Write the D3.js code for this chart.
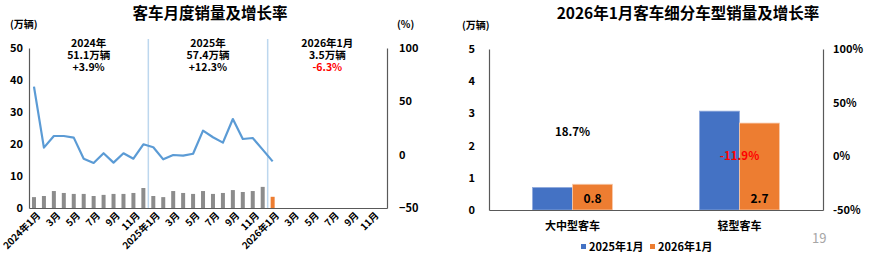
<!DOCTYPE html>
<html><head><meta charset="utf-8">
<script src="https://cdn.jsdelivr.net/npm/d3@7/dist/d3.min.js"></script>
<style>
body{margin:0;background:#fff;}
svg{display:block;font-family:"Noto Sans CJK SC","Noto Sans",sans-serif;}
</style></head>
<body>
<svg id="c" width="874" height="259"></svg>
<script>
// ---------- data: left chart ----------
const months = [];
for (const y of [2024, 2025, 2026]) for (let m = 1; m <= 12; m++) months.push(y + "-" + m);
const monthLabels = months.map(k => { const [y, m] = k.split("-"); return m === "1" ? y + "年1月" : m + "月"; });
const salesPrev = [3.4,3.75,5.3,4.7,4.4,4.4,3.75,4.1,4.4,4.4,4.7,6.25, 3.75,3.4,5.3,4.7,4.4,5.3,4.4,4.7,5.6,5.0,5.3,6.6];
const salesCur = [3.5];
const growth = [63.8,6.6,17.5,17.5,16,-3.8,-7.8,1.3,-7.5,1.3,-3.8,9.7, 6.9,-4.4,-0.3,-0.9,0.9,22.5,16.3,11.3,33.4,14.7,15.6,4.7, -6.3];
const leftTicks = [0,10,20,30,40,50];
const rightTicks = [-50,0,50,100];
const notes = [
  {lines:["2024年","51.1万辆","+3.9%"], red:false, span:["2024-1","2024-12"]},
  {lines:["2025年","57.4万辆","+12.3%"], red:false, span:["2025-1","2025-12"]},
  {lines:["2026年1月","3.5万辆","-6.3%"], red:true, span:["2026-1","2026-12"]}
];
// ---------- data: right chart ----------
const types = ["大中型客车","轻型客车"];
const series = ["2025年1月","2026年1月"];
const vol2025 = [0.7, 3.07];
const vol2026 = [0.8, 2.7];
const typeGrowth = [18.7, -11.9];
const rLeftTicks = [0,1,2,3,4,5];
const rRightTicks = [-50,0,50,100];

const svg = d3.select("#c");
const C = {blue:"#4472C4", orange:"#ED7D31", gray:"#8C8C8C", line:"#5B9BD5", sep:"#BDD7EE", axis:"#595959", red:"#FF0000"};
const FONT = '"Noto Sans CJK SC",sans-serif';

// ================= LEFT CHART =================
(function(){
  const g = svg.append("g");
  const x = d3.scaleBand().domain(months).range([29, 387]);
  const yL = d3.scaleLinear().domain([0, 50]).range([208, 48]);
  const yR = d3.scaleLinear().domain([-50, 100]).range([208, 48]);
  const cx = k => x(k) + x.bandwidth() / 2;

  g.append("text").attr("x", 210).attr("y", 19).attr("text-anchor","middle")
    .attr("font-size", 15.5).attr("font-weight","bold").text("客车月度销量及增长率");
  g.append("text").attr("x", 10).attr("y", 28).attr("font-size", 10).attr("font-weight","bold").text("(万辆)");
  g.append("text").attr("x", 397).attr("y", 28).attr("font-size", 10).attr("font-weight","bold").text("(%)");

  // separators
  [["2024-12","2025-1"],["2025-12","2026-1"]].forEach(([a,b]) => {
    const sx = (cx(a) + cx(b)) / 2;
    g.append("line").attr("x1", sx).attr("x2", sx).attr("y1", 39).attr("y2", 208)
      .attr("stroke", C.sep).attr("stroke-width", 1.5);
  });

  // bars
  const bw = 4;
  g.selectAll(".bp").data(salesPrev).join("rect")
    .attr("x", (d,i) => cx(months[i]) - bw/2).attr("width", bw)
    .attr("y", d => yL(d)).attr("height", d => yL(0) - yL(d)).attr("fill", C.gray);
  g.selectAll(".bc").data(salesCur).join("rect")
    .attr("x", (d,i) => cx(months[24+i]) - bw/2).attr("width", bw)
    .attr("y", d => yL(d)).attr("height", d => yL(0) - yL(d)).attr("fill", C.orange);

  // line
  g.append("path").datum(growth)
    .attr("d", d3.line().x((d,i) => cx(months[i])).y(d => yR(d)))
    .attr("fill","none").attr("stroke", C.line).attr("stroke-width", 2.2).attr("stroke-linejoin","round");

  // axes
  const axL = g.append("g").attr("transform","translate(29,0)")
    .call(d3.axisLeft(yL).tickValues(leftTicks).tickSize(0).tickPadding(6));
  const axR = g.append("g").attr("transform","translate(387,0)")
    .call(d3.axisRight(yR).tickValues(rightTicks).tickSize(0).tickPadding(12));
  const axB = g.append("g").attr("transform","translate(0,208)")
    .call(d3.axisBottom(x).tickValues(months.filter((d,i) => i % 2 === 0)).tickSize(0).tickFormat(d => monthLabels[months.indexOf(d)]));
  [axL, axR, axB].forEach(a => {
    a.select(".domain").attr("stroke", C.axis).attr("stroke-width", 1.2);
    a.selectAll("text").attr("font-size", 11).attr("font-weight","bold").attr("fill","#000").attr("font-family", FONT);
  });
  axB.selectAll("text").attr("font-size", 9.6).attr("text-anchor","end")
    .attr("dy", 0).attr("transform", "translate(5,6) rotate(-45)");

  // annotations
  notes.forEach(n => {
    const mid = (cx(n.span[0]) + cx(n.span[1])) / 2;
    n.lines.forEach((t, i) => {
      g.append("text").attr("x", mid).attr("y", 46.5 + i * 12).attr("text-anchor","middle")
        .attr("font-size", 10.5).attr("font-weight", "bold")
        .attr("fill", (n.red && i === 2) ? C.red : "#000").text(t);
    });
  });
})();

// ================= RIGHT CHART =================
(function(){
  const g = svg.append("g");
  const x0 = d3.scaleBand().domain(types).range([489, 823]);
  const x1 = d3.scaleBand().domain(series).range([0, 80]);
  const yL = d3.scaleLinear().domain([0, 5]).range([210, 49]);
  const yR = d3.scaleLinear().domain([-50, 100]).range([210, 49]);
  const colors = [C.blue, C.orange];
  const edge = ["#8FAADC", "#F8CBAD"];
  const vals = [vol2025, vol2026];

  g.append("text").attr("x", 688).attr("y", 19).attr("text-anchor","middle")
    .attr("font-size", 15.5).attr("font-weight","bold").text("2026年1月客车细分车型销量及增长率");
  g.append("text").attr("x", 462).attr("y", 29).attr("font-size", 10).attr("font-weight","bold").text("(万辆)");

  types.forEach((t, ti) => {
    const base = x0(t) + x0.bandwidth()/2 - 40;
    series.forEach((s, si) => {
      const v = vals[si][ti];
      g.append("rect").attr("x", base + x1(s)).attr("width", x1.bandwidth())
        .attr("y", yL(v)).attr("height", yL(0) - yL(v)).attr("fill", colors[si])
        .attr("stroke", edge[si]).attr("stroke-width", 0.8);
    });
    // value label on 2026 bar
    g.append("text").attr("x", base + x1(series[1]) + x1.bandwidth()/2).attr("y", yL(0) - 7)
      .attr("text-anchor","middle").attr("font-size", 12).attr("font-weight","bold").text(vol2026[ti]);
    // growth label
    const gv = typeGrowth[ti];
    g.append("text").attr("x", x0(t) + x0.bandwidth()/2).attr("y", yR(gv) + (gv < 0 ? -9 : 0))
      .attr("text-anchor","middle").attr("font-size", 11.5).attr("font-weight", "bold")
      .attr("fill", gv < 0 ? C.red : "#000").text(gv.toFixed(1) + "%");
  });

  const axL = g.append("g").attr("transform","translate(489,0)")
    .call(d3.axisLeft(yL).tickValues(rLeftTicks).tickSize(0).tickPadding(14).tickFormat(d3.format("d")));
  const axR = g.append("g").attr("transform","translate(823,0)")
    .call(d3.axisRight(yR).tickValues(rRightTicks).tickSize(0).tickPadding(10).tickFormat(d => d + "%"));
  const axB = g.append("g").attr("transform","translate(0,210)")
    .call(d3.axisBottom(x0).tickSize(0).tickPadding(12));
  [axL, axR, axB].forEach(a => {
    a.select(".domain").attr("stroke", C.axis).attr("stroke-width", 1.2);
    a.selectAll("text").attr("font-size", 11).attr("font-weight","bold").attr("fill","#000").attr("font-family", FONT);
  });

  // legend
  const lg = g.append("g").attr("transform","translate(581,247)");
  series.forEach((s, i) => {
    const ox = i * 69;
    lg.append("rect").attr("x", ox).attr("y", -3).attr("width", 5).attr("height", 5).attr("fill", colors[i]);
    lg.append("text").attr("x", ox + 8).attr("y", 4).attr("font-size", 11).attr("font-weight","bold").text(s);
  });

  g.append("text").attr("x", 812).attr("y", 243).attr("font-size", 13).attr("fill","#A6A6A6").text("19");
})();
</script>
</body></html>
